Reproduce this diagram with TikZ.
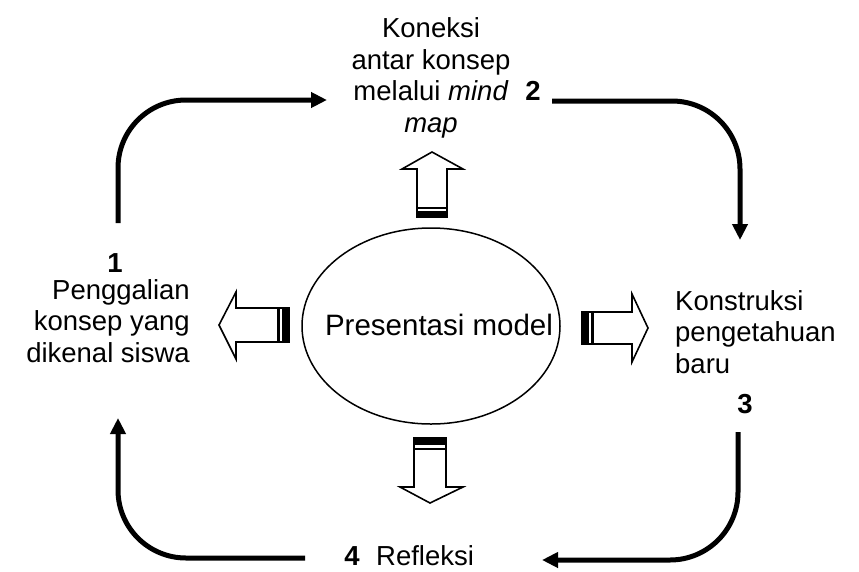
\documentclass[tikz,border=0pt]{standalone}
\usepackage{fontspec}
\setmainfont{Liberation Sans}
\usetikzlibrary{arrows.meta,shapes.geometric}
\begin{document}
\begin{tikzpicture}[x=1pt,y=-1pt,
  lbl/.style={inner sep=0pt,font=\fontsize{27.5}{31.5}\selectfont},
  num/.style={inner sep=0pt,font=\fontsize{27.5}{31.5}\selectfont\bfseries},
  flow/.style={line width=5pt,rounded corners=68pt,-{Triangle[length=16pt,width=15pt]}},
  blk/.style={draw,line width=1.6pt,fill=white,line join=miter},
  band/.style={fill=black}]
\useasboundingbox (0,0) rectangle (859,571);

% centre
\node[draw,ellipse,line width=1.5pt,minimum width=258pt,minimum height=196pt,inner sep=0pt] (model) at (431,326) {};
\node[inner sep=0pt,font=\fontsize{29.5}{34}\selectfont,anchor=base] (modeltxt) at (439,335) {Presentasi model};

% labels (base anchor = baseline of the last line)
\node[lbl,align=center,anchor=base] (t2) at (431,132) {Koneksi\\antar konsep\\melalui \textit{mind}\\\textit{map}};
\node[num,anchor=base] (n2) at (533,100) {2};
\node[num,anchor=base] (n1) at (115,272) {1};
\node[lbl,align=right,anchor=base east] (t1) at (190,362) {Penggalian\\konsep yang\\dikenal siswa};
\node[lbl,align=left,anchor=base west] (t3) at (675,373) {Konstruksi\\pengetahuan\\baru};
\node[num,anchor=base] (n3) at (745,413) {3};
\node[num,anchor=base] (n4) at (352,565) {4};
\node[lbl,anchor=base west] (t4) at (376,565) {Refleksi};

% cycle connectors
\coordinate (a1s) at (118,223); \coordinate (a1e) at (327,100);
\coordinate (a2s) at (552,101); \coordinate (a2e) at (740,240);
\coordinate (a3s) at (738,432); \coordinate (a3e) at (542,560);
\coordinate (a4s) at (305,558); \coordinate (a4e) at (118,418);
\draw[flow] (a1s) |- (a1e);
\draw[flow] (a2s) -| (a2e);
\draw[flow] (a3s) |- (a3e);
\draw[flow] (a4s) -| (a4e);

% block arrows
\draw[blk] (417,217) -- (417,169) -- (402,169) -- (432,152) -- (463,169) -- (447,169) -- (447,217) -- cycle;
\fill[band] (417,211) rectangle (447,217);
\fill[band] (417,206.5) rectangle (447,209);

\draw[blk] (289,308) -- (236,308) -- (236,292) -- (219,325) -- (236,359) -- (236,342) -- (289,342) -- cycle;
\fill[band] (282,308) rectangle (289,342);
\fill[band] (277,308) rectangle (280,342);

\draw[blk] (582,312) -- (632,312) -- (632,294) -- (648,328) -- (632,362) -- (632,344) -- (582,344) -- cycle;
\fill[band] (582,312) rectangle (589,344);
\fill[band] (591,312) rectangle (593.5,344);

\draw[blk] (414,438) -- (414,487) -- (400,487) -- (430,503) -- (463,487) -- (446,487) -- (446,438) -- cycle;
\fill[band] (414,438) rectangle (446,445);
\fill[band] (414,447.5) rectangle (446,450);
\end{tikzpicture}
\end{document}
